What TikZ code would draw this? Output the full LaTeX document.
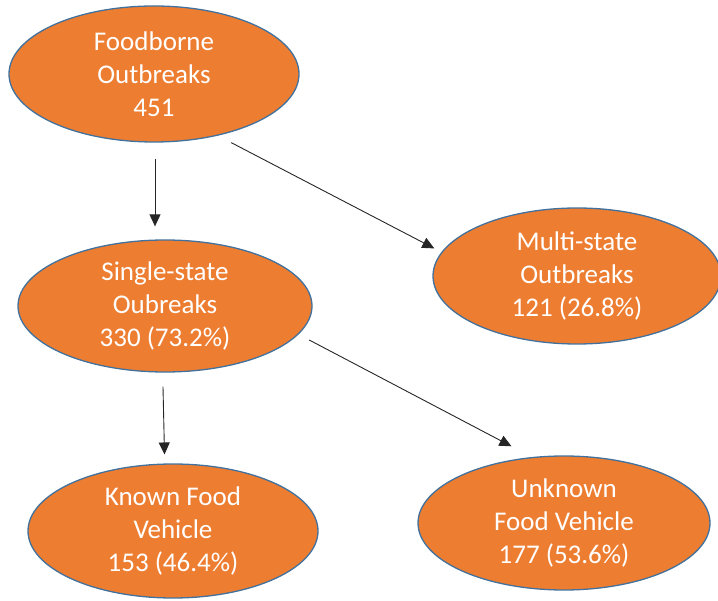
\documentclass[tikz,border=0pt]{standalone}
\usepackage{fontspec}
\setmainfont{Carlito}
\usepackage{tikz}
\usetikzlibrary{arrows.meta,shapes.geometric}
\definecolor{orangefill}{HTML}{ED7D31}
\definecolor{edgeblue}{HTML}{41719C}
\begin{document}
\begin{tikzpicture}[x=1pt,y=-1pt,oval/.style={ellipse,draw=edgeblue,line width=1.3pt,fill=orangefill,inner sep=0pt,minimum width=290pt,minimum height=134pt,align=center,text=white,font=\fontsize{27}{33}\selectfont},arr/.style={-{Triangle[length=12pt,width=11pt]},line width=0.9pt,color=black!85}]
\useasboundingbox (0,0) rectangle (718,601);
\clip (0,0) rectangle (718,601);
\node[oval,minimum width=290pt,minimum height=136pt] (food) at (154,74) {Foodborne\\Outbreaks\\451};
\node[oval,minimum width=288pt,minimum height=136pt] (multi) at (577,276) {Multi-state\\Outbreaks\\121 (26.8\%)};
\node[oval,minimum width=294pt,minimum height=132pt] (single) at (165,306) {Single-state\\Oubreaks\\330 (73.2\%)};
\node[oval,minimum width=290pt,minimum height=134pt] (known) at (173,531) {Known Food\\Vehicle\\153 (46.4\%)};
\node[oval,minimum width=292pt,minimum height=134pt] (unknown) at (564,523) {Unknown\\Food Vehicle\\177 (53.6\%)};
\draw[arr,shorten <=16pt,shorten >=13pt] ([xshift=1pt]food.south) -- ([xshift=1pt]food.south |- single.north);
\draw[arr,shorten <=15pt,shorten >=8pt] (food.-44) -- (multi.170);
\draw[arr,shorten <=14pt,shorten >=9pt] (single.-92) -- (known.97);
\draw[arr,shorten <=12pt,shorten >=23pt] (single.-12) -- (unknown.116);
\end{tikzpicture}
\end{document}
